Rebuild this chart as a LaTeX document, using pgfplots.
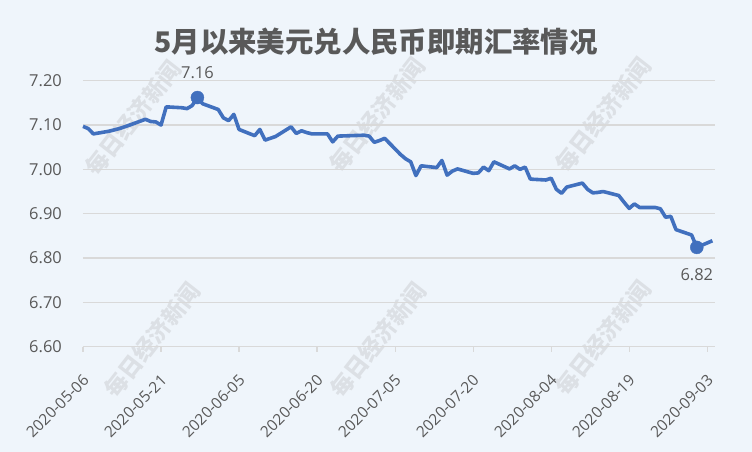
\documentclass[border=0pt]{standalone}
\usepackage{fontspec}
\usepackage{pgfplots}
\pgfplotsset{compat=1.18}
\setmainfont{Open Sans}
\newfontfamily\cjk{Noto Sans CJK SC}
\definecolor{bg}{HTML}{EFF5FB}
\definecolor{txt}{HTML}{595959}
\definecolor{gridc}{HTML}{D9D9D9}
\definecolor{linec}{HTML}{4170BE}
\definecolor{wm}{HTML}{DCE0E5}
\pgfplotstableread{
d v
0 7.097
1 7.092
2 7.080
5 7.086
6 7.089
7 7.092
8 7.096
9 7.100
12 7.113
13 7.108
14 7.107
15 7.100
16 7.141
19 7.139
20 7.137
21 7.144
22 7.162
23 7.148
26 7.135
27 7.116
28 7.110
29 7.124
30 7.090
33 7.076
34 7.090
35 7.066
36 7.070
37 7.074
40 7.096
41 7.081
42 7.087
43 7.083
44 7.080
47 7.080
48 7.062
49 7.075
54 7.077
55 7.075
56 7.061
57 7.065
58 7.070
61 7.034
62 7.024
63 7.017
64 6.986
65 7.008
68 7.004
69 7.020
70 6.987
71 6.996
72 7.001
75 6.991
76 6.992
77 7.005
78 6.997
79 7.017
82 7.001
83 7.008
84 7.000
85 7.005
86 6.978
89 6.976
90 6.980
91 6.955
92 6.946
93 6.960
96 6.969
97 6.955
98 6.947
99 6.948
100 6.950
103 6.941
104 6.926
105 6.912
106 6.922
107 6.914
110 6.914
111 6.911
112 6.892
113 6.894
114 6.864
117 6.852
118 6.824
119 6.829
120 6.834
121 6.839
}\rate
\begin{document}
\begin{tikzpicture}[x=1bp,y=1bp]
\path[use as bounding box, fill=bg] (-83,-105.3) rectangle (669,346.7);
\foreach \x/\y in {133/118, 377/115, 603/115, 152/340, 378/340, 603/338} {
  \node[rotate=52, text=wm, font=\cjk\bfseries\fontsize{23}{23}\selectfont] at (\x-83, 346.7-\y) {每日经济新闻};
}
\node[text=txt, font=\cjk\bfseries\fontsize{28.5}{28.5}\selectfont] at (293,304.7) {5月以来美元兑人民币即期汇率情况};
\begin{axis}[
  at={(0,0)}, anchor=south west,
  scale only axis, width=632bp, height=266bp,
  xmin=0, xmax=121.5, ymin=6.6, ymax=7.2,
  axis x line*=bottom, axis y line*=left,
  x axis line style={gridc, line width=1.2bp},
  y axis line style={draw=none},
  ytick={6.6,6.7,6.8,6.9,7.0,7.1,7.2},
  ymajorgrids, grid style={gridc, line width=1.2bp},
  ytick style={draw=none},
  xtick={0,15,30,45,60,75,90,105,120},
  xticklabels={2020-05-06,2020-05-21,2020-06-05,2020-06-20,2020-07-05,2020-07-20,2020-08-04,2020-08-19,2020-09-03},
  xtick style={gridc, line width=1.2bp},
  tick align=outside, xtick pos=bottom, major tick length=5bp,
  /pgf/number format/assume math mode=true,
  yticklabel style={/pgf/number format/fixed, /pgf/number format/precision=2, /pgf/number format/fixed zerofill, inner sep=0pt, xshift=-16bp, font=\fontsize{16.5}{16.5}\selectfont},
  ticklabel style={text=txt},
  xticklabel style={xshift=3bp, rotate=45, anchor=east, inner sep=0pt, font=\fontsize{15.5}{15.5}\selectfont},
  xticklabel shift=26bp,
  clip=false,
]
\addplot[linec, line width=3.6bp, line join=round] table[x=d, y=v] {\rate};
\addplot[only marks, mark=*, mark size=6.5bp, linec, mark options={fill=linec},
  nodes near coords={7.16}, every node near coord/.style={anchor=base, yshift=18.7bp, text=txt, font=\fontsize{16.5}{16.5}\selectfont}]
  coordinates {(22,7.162)};
\addplot[only marks, mark=*, mark size=6.5bp, linec, mark options={fill=linec},
  nodes near coords={6.82}, every node near coord/.style={anchor=base, yshift=-32.7bp, text=txt, font=\fontsize{16.5}{16.5}\selectfont}]
  coordinates {(118,6.824)};
\end{axis}
\end{tikzpicture}
\end{document}
